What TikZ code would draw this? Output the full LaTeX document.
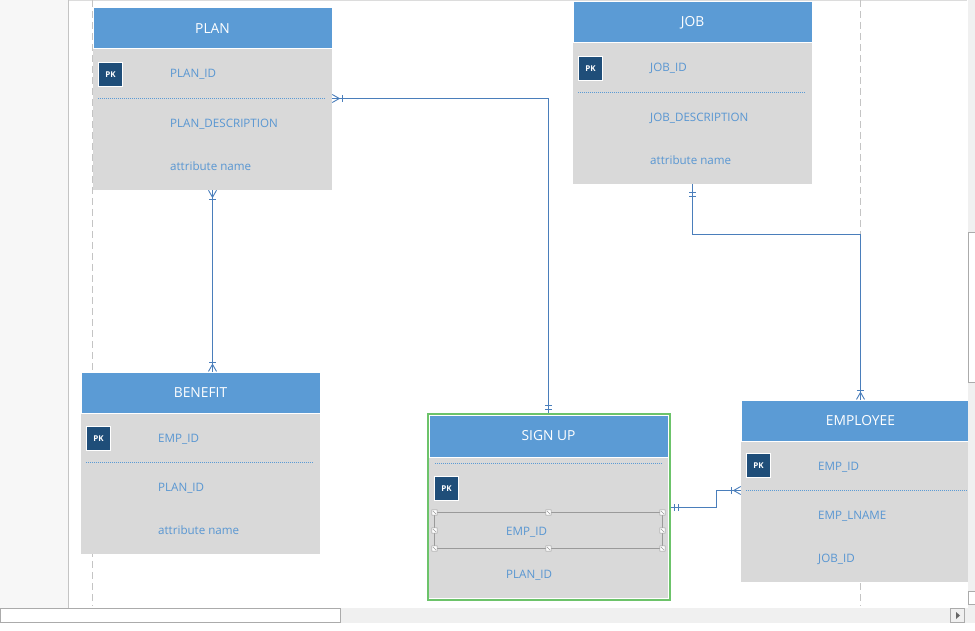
\documentclass[tikz,border=0pt]{standalone}
\usepackage{fontspec}
\setmainfont{Open Sans}
\usetikzlibrary{calc,decorations.markings}
\definecolor{hdrblue}{HTML}{5B9BD5}
\definecolor{bodygray}{HTML}{D9D9D9}
\definecolor{pkblue}{HTML}{1F4E79}
\definecolor{fieldblue}{HTML}{5896D2}
\definecolor{linkblue}{HTML}{4A7EBB}
\definecolor{selgreen}{HTML}{6CC36A}
\definecolor{selgray}{HTML}{9A9A9A}
\definecolor{pagegray}{HTML}{C4C4C4}
\definecolor{panelgray}{HTML}{F7F7F7}
\definecolor{scrollgray}{HTML}{F0F0F0}
\definecolor{thumbgray}{HTML}{ABABAB}
\tikzset{
	hdr/.style={fill=hdrblue, draw=white, line width=1pt, minimum width=239pt, minimum height=41pt, inner sep=0pt, text=white, font=\fontsize{13.8}{16}\selectfont},
	tbody/.style={fill=bodygray, minimum width=239pt, minimum height=141pt, inner sep=0pt},
	pk/.style={fill=pkblue, draw=white, line width=0.8pt, minimum size=24pt, inner sep=0pt, text=white, font=\fontsize{8}{9}\selectfont\bfseries},
	field/.style={anchor=base west, inner sep=0pt, text=fieldblue, font=\fontsize{11.6}{13}\selectfont},
	keyline/.style={hdrblue, line width=0.6pt, dash pattern=on 1pt off 1pt},
	pageline/.style={pagegray, line width=0.8pt, dash pattern=on 7pt off 4pt},
	link/.style={linkblue, line width=0.9pt},
	bar at/.style={postaction={decorate, decoration={markings,
		mark=at position #1 with {\draw[link] (0,-3.5pt) -- (0,3.5pt);}}}},
	crow start/.style={postaction={decorate, decoration={markings,
		mark=at position 0.1pt with {\draw[link] (0,4pt) -- (7pt,0) -- (0,-4pt);}}}},
	crow end/.style={postaction={decorate, decoration={markings,
		mark=at position -0.1pt with {\draw[link] (0,4pt) -- (-7pt,0) -- (0,-4pt);}}}},
}

\begin{document}
\begin{tikzpicture}[x=1pt, y=-1pt]
		%%%%% START %%%%%
		\useasboundingbox (0,0) rectangle (975,631);
		\fill[white] (0,0) rectangle (975,631);
		
		\fill[panelgray] (0,0) rectangle (68,608);
		\draw[thumbgray!70, line width=1pt] (68.5,0) -- (68.5,608);
		\draw[pagegray!60, line width=0.6pt] (69,0.5) -- (967,0.5);
		\draw[pageline] (92.5,0) -- (92.5,606);
		\draw[pageline] (860.5,0) -- (860.5,606);
		
		% PLAN
		\node[tbody] (plan-body) at (212.5,119.5) {};
		\node[hdr] (plan) at (212.5,28.5) {PLAN};
		\node[pk] (plan-pk) at (110.5,74.5) {PK};
		\node[field] (plan-id) at (170,78) {PLAN\_ID};
		\draw[keyline] (98,98.5) coordinate (plan-key) -- (326,98.5);
		\node[field] (plan-desc) at (170,127.5) {PLAN\_DESCRIPTION};
		\node[field] (plan-attr) at (170,170.5) {attribute name};
		
		% JOB
		\node[tbody] (job-body) at (692.5,113.5) {};
		\node[hdr] (job) at (692.5,22.5) {JOB};
		\node[pk] (job-pk) at (590.5,68.5) {PK};
		\node[field] (job-id) at (650,72) {JOB\_ID};
		\draw[keyline] (578,92.5) coordinate (job-key) -- (806,92.5);
		\node[field] (job-desc) at (650,121.5) {JOB\_DESCRIPTION};
		\node[field] (job-attr) at (650,164.5) {attribute name};
		
		% BENEFIT
		\node[tbody] (benefit-body) at (200.5,483.5) {};
		\node[hdr] (benefit) at (200.5,392.5) {BENEFIT};
		\node[pk] (benefit-pk) at (98.5,438.5) {PK};
		\node[field] (benefit-emp) at (158,442) {EMP\_ID};
		\draw[keyline] (86,462.5) coordinate (benefit-key) -- (314,462.5);
		\node[field] (benefit-plan) at (158,491.5) {PLAN\_ID};
		\node[field] (benefit-attr) at (158,534.5) {attribute name};
		
		% SIGN UP
		\node[tbody] (signup-body) at (548.5,527.5) {};
		\node[hdr, minimum height=42pt] (signup) at (548.5,436) {SIGN UP};
		\draw[keyline] (435,463.5) coordinate (signup-key) -- (662,463.5);
		\node[pk] (signup-pk) at (446.5,488.5) {PK};
		\node[field] (signup-emp) at (506,535) {EMP\_ID};
		\node[field] (signup-plan) at (506,578.5) {PLAN\_ID};
		
		% EMPLOYEE
		\node[tbody] (employee-body) at (860.5,511.5) {};
		\node[hdr] (employee) at (860.5,420.5) {EMPLOYEE};
		\node[pk] (employee-pk) at (758.5,465.5) {PK};
		\node[field] (employee-id) at (818,470.5) {EMP\_ID};
		\draw[keyline] (746,490.5) coordinate (employee-key) -- (975,490.5);
		\node[field] (employee-lname) at (818,519.5) {EMP\_LNAME};
		\node[field] (employee-job) at (818,562.5) {JOB\_ID};
		
		% selected entity
		\node[draw=selgreen, line width=2pt, minimum width=242pt, minimum height=186pt, inner sep=0pt] (signup-frame) at (548.5,507) {};
		\draw[selgray, line width=0.8pt] (434.5,512.5) rectangle (662.5,548.5);
		\foreach \hx/\hy in {434.5/512.5, 548.5/512.5, 662.5/512.5, 434.5/530.5, 662.5/530.5, 434.5/548.5, 548.5/548.5, 662.5/548.5}
			\draw[selgray, fill=white, line width=0.5pt] (\hx-2.7,\hy-2.7) rectangle (\hx+2.7,\hy+2.7) (\hx-1.5,\hy-1.5) -- (\hx+1.5,\hy+1.5);
		
		% relationships
		\draw[link, crow start, bar at=10pt, bar at=-4pt, bar at=-8pt] (plan-body.east |- plan-key) -| (signup-frame.north);
		\draw[link, crow start, bar at=9pt, bar at=-9pt, crow end] (plan-body.south) -- (plan-body.south |- benefit.north);
		\draw[link, bar at=8pt, bar at=12pt, bar at=-9pt, crow end] (job-body.south) -- ++(0,50) -| (employee.north);
		\draw[link, bar at=4pt, bar at=7.5pt, bar at=-9pt, crow end] (signup-frame.east) -- ++(45.5,0) |- (employee-body.west |- employee-key);
		
		% window scroll bars
		\fill[scrollgray] (967.5,0) rectangle (975,608);
		\draw[thumbgray, fill=white, line width=0.8pt] (968.8,232) rectangle (976,382);
		\draw[thumbgray, fill=white, line width=0.8pt] (968.8,591) rectangle (976,604);
		\fill[scrollgray] (0,608) rectangle (975,623);
		\draw[thumbgray, fill=white, line width=0.8pt] (0,608.5) rectangle (340.5,622.5);
		\draw[thumbgray, fill=scrollgray, line width=0.8pt] (950.5,608.5) rectangle (964.5,622.5);
		\fill[black!60] (956,612) -- (960,615.5) -- (956,619) -- cycle;
		
		%%%%% END %%%%%
\end{tikzpicture}
\end{document}
